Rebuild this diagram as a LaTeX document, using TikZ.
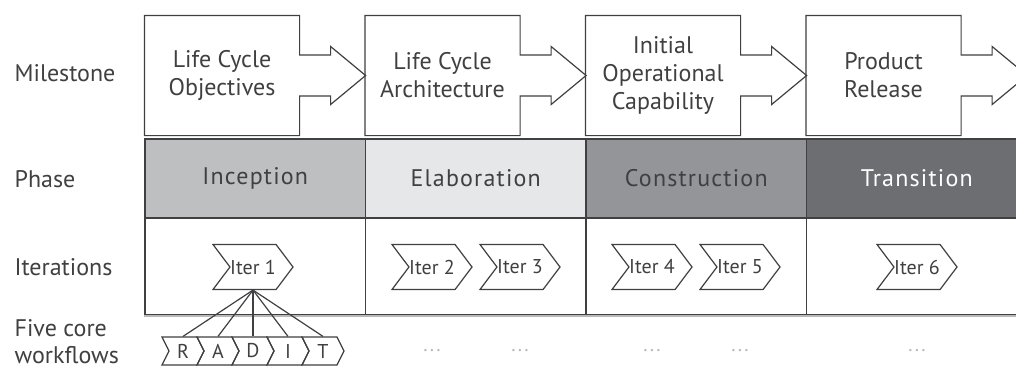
\documentclass[tikz,border=0pt]{standalone}
\usepackage{fontspec}
\setmainfont{PT Sans}
\newfontfamily\phasefont[LetterSpace=5]{PT Sans}
\usetikzlibrary{calc}
\usetikzlibrary{shapes.symbols}
\definecolor{ink}{RGB}{64,64,66}
\definecolor{incgray}{RGB}{190,191,193}
\definecolor{elagray}{RGB}{230,231,232}
\definecolor{congray}{RGB}{147,149,152}
\definecolor{tragray}{RGB}{109,110,113}
\tikzset{rowlabel/.style = {anchor = west, align = left, inner sep = 0, text = ink, font = \fontsize{12}{13.5}\selectfont}}
\tikzset{milebox/.style = {rectangle, inner sep = 0, minimum width = 77pt, minimum height = 59.5pt, align = center, text = ink, font = \fontsize{12}{14}\selectfont}}
\tikzset{phasecell/.style = {draw = ink, rectangle, minimum width = 110.25pt, minimum height = 39.5pt, font = \phasefont\fontsize{12}{14}\selectfont}}
\tikzset{itercell/.style = {draw = ink, rectangle, minimum width = 110.25pt, minimum height = 48.5pt}}
\tikzset{iter/.style = {draw = ink, signal, signal from = west, signal to = east, signal pointer angle = 106, inner sep = 0, minimum width = 40pt, minimum height = 22.5pt, text = ink, font = \fontsize{10}{11}\selectfont}}
\tikzset{flow/.style = {draw = ink, signal, signal from = west, signal to = east, signal pointer angle = 127, inner sep = 0, minimum width = 21pt, minimum height = 14pt, text = ink, font = \fontsize{10}{11}\selectfont}}
\tikzset{dots/.style = {inner sep = 0, text = gray!55, font = \phasefont\fontsize{10}{11}\selectfont}}

\begin{document}
\begin{tikzpicture}[x = 0.5pt, y = -0.5pt, line width = 0.6pt]
  \useasboundingbox (0, 0) rectangle (1016, 370);
  \fill [white] (0, 0) rectangle (1016, 370);
  \clip (0, 0) rectangle (1016, 370);

  % row labels
  \node [rowlabel] (lmile) at (14, 73) {Milestone};
  \node [rowlabel] (lphase) at (14, 179) {Phase};
  \node [rowlabel] (liter) at (14, 267) {Iterations};
  \node [rowlabel] (lflow) at (14, 342) {Five core\\workflows};

  % milestones, each box with its arrow
  \foreach \txt [count = \k from 0] in {Life Cycle\\Objectives, Life Cycle\\Architecture, Initial\\Operational\\Capability, Product\\Release} {
    \node [milebox] (m\k) at (222 + 220.5*\k, 75.5) {\txt};
    \draw [ink] (m\k.north west) -- (m\k.north east) -- ($(m\k.east) + (0, -20.5)$)
      -- ++(31, 0) -- ++(0, -8.5) -- ++(35, 29) -- ++(-35, 29) -- ++(0, -8.5)
      -- ($(m\k.east) + (0, 20.5)$) -- (m\k.south east) -- (m\k.south west) -- cycle;
  }

  % phases
  \foreach \txt/\shade/\tcol [count = \k from 0] in {Inception/incgray/ink, Elaboration/elagray/ink, Construction/congray/ink, Transition/tragray/white} {
    \node [phasecell, fill = \shade, text = \tcol] (p\k) at (255.25 + 220.5*\k, 178.5) {\txt};
  }

  % iteration cells
  \foreach \k in {0,1,2,3} {
    \node [itercell] (c\k) at (255.25 + 220.5*\k, 266.5) {};
  }
  \draw [gray!55, line width = 1pt] (c0.south west) -- (c3.south east);

  \foreach \n/\x in {1/253, 2/432, 3/520, 4/652, 5/740, 6/917} {
    \node [iter] (i\n) at (\x, 267) {Iter \n};
  }

  % core workflows of the first iteration
  \foreach \l [count = \n] in {R,A,D,I,T} {
    \node [flow] (w\n) at (148 + 35*\n, 351) {\l};
    \draw [ink] (i1.south) -- (w\n.north);
  }
  \foreach \x [count = \n] in {432, 520, 652, 740, 917} {
    \node [dots] (d\n) at (\x, 351) {...};
  }
\end{tikzpicture}
\end{document}
